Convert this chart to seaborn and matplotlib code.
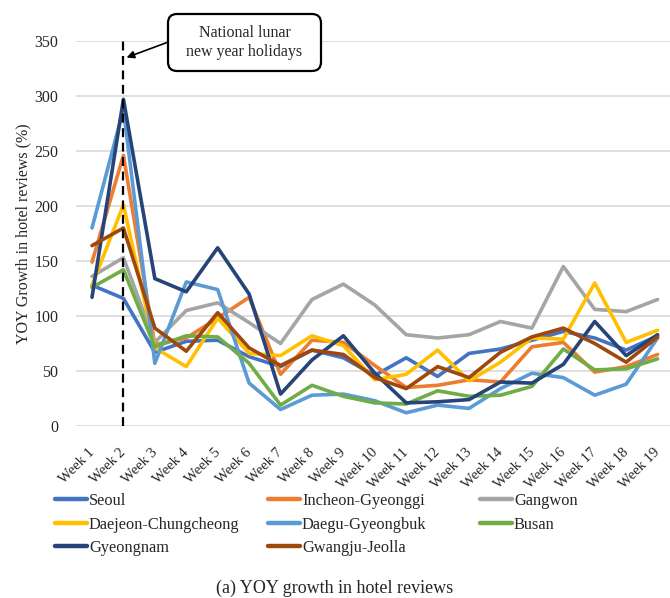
import matplotlib
matplotlib.use("Agg")
import matplotlib.pyplot as plt
from matplotlib.patches import FancyBboxPatch
from matplotlib.transforms import IdentityTransform, ScaledTranslation
import seaborn as sns
import pandas as pd

# Weekly year-over-year growth in hotel reviews (%) by region
weeks = [f"Week {i}" for i in range(1, 20)]
week_no = list(range(1, 20))

regions = ["Seoul", "Incheon-Gyeonggi", "Gangwon", "Daejeon-Chungcheong",
           "Daegu-Gyeongbuk", "Busan", "Gyeongnam", "Gwangju-Jeolla"]

seoul = [128, 116, 67, 77, 78, 63, 54, 69, 62, 46, 62, 45, 66, 70, 78, 86, 80, 69, 82]
incheon_gyeonggi = [149, 246, 74, 80, 98, 117, 47, 78, 76, 55, 35, 37, 42, 40, 72, 76, 49, 54, 65]
gangwon = [136, 153, 76, 105, 112, 94, 75, 115, 129, 110, 83, 80, 83, 95, 89, 145, 106, 104, 115]
daejeon_chungcheong = [128, 201, 71, 54, 98, 66, 64, 82, 73, 42, 47, 69, 41, 58, 80, 79, 130, 76, 87]
daegu_gyeongbuk = [180, 288, 57, 131, 124, 39, 15, 28, 29, 23, 12, 19, 16, 34, 48, 44, 28, 38, 80]
busan = [126, 142, 72, 82, 81, 57, 19, 37, 27, 21, 20, 32, 27, 28, 36, 70, 51, 52, 61]
gyeongnam = [117, 297, 134, 122, 162, 120, 29, 60, 82, 48, 21, 22, 24, 40, 39, 56, 95, 64, 83]
gwangju_jeolla = [164, 180, 89, 68, 103, 71, 55, 69, 65, 44, 34, 54, 44, 67, 81, 89, 75, 58, 81]

series = [seoul, incheon_gyeonggi, gangwon, daejeon_chungcheong,
          daegu_gyeongbuk, busan, gyeongnam, gwangju_jeolla]

colors = ["#4472C4", "#ED7D31", "#A5A5A5", "#FFC000",
          "#5B9BD5", "#70AD47", "#264478", "#9E480E"]

holiday_week = 2

rows = []
for name, vals in zip(regions, series):
    for w, v in zip(week_no, vals):
        rows.append({"week": w, "region": name, "growth": v})
df = pd.DataFrame(rows)

sns.set_style("white")
plt.rcParams["font.family"] = ["Liberation Serif", "DejaVu Serif"]

W, H = 670, 598
fig = plt.figure(figsize=(W / 100, H / 100), dpi=100)
ax = fig.add_axes([76.3 / W, (H - 426) / H, 597 / W, 385 / H])

sns.lineplot(data=df, x="week", y="growth", hue="region", hue_order=regions,
             palette=dict(zip(regions, colors)), linewidth=2.6, sort=False,
             estimator=None, ax=ax)

ax.get_legend().remove()

ax.set_xlim(0.5, 19.5)
ax.set_ylim(0, 350)
ax.set_yticks(range(0, 351, 50))
ax.set_xticks(week_no)
ax.set_xticklabels(weeks, rotation=45, ha="right", rotation_mode="default")
ax.tick_params(axis="both", length=0, labelsize=11.5)
ax.tick_params(axis="x", labelsize=10.5, pad=10)
ax.tick_params(axis="y", pad=13)
shift = ScaledTranslation(5 / 100, -6 / 100, fig.dpi_scale_trans)
for lbl in ax.get_xticklabels():
    lbl.set_transform(lbl.get_transform() + shift)
ax.yaxis.grid(True, color="#D9D9D9", linewidth=1.2)
ax.xaxis.grid(False)
for s in ax.spines.values():
    s.set_visible(False)
ax.set_xlabel("")
ax.set_ylabel("YOY Growth in hotel reviews (%)", fontsize=11.5, labelpad=2)

# Holiday marker
ax.vlines(holiday_week, 0, 350, colors="black", linestyles=(0, (4, 2.5)),
          linewidth=1.6, zorder=10)
ax.annotate("", xy=(holiday_week + 0.1, 335), xytext=(holiday_week + 1.42, 349),
            arrowprops=dict(arrowstyle="-|>", color="black", lw=1.2,
                            mutation_scale=11, shrinkA=0, shrinkB=0),
            annotation_clip=False, zorder=11)

box = FancyBboxPatch((168, H - 71), 153, 57,
                     boxstyle="round,pad=0,rounding_size=9",
                     transform=IdentityTransform(), facecolor="white",
                     edgecolor="black", linewidth=1.6)
fig.patches.append(box)
fig.text(244.5 / W, 1 - 42.5 / H, "National lunar\nnew year holidays",
         ha="center", va="center", fontsize=11.5, linespacing=1.2)

# Legend laid out in three columns, row by row
col_x = [55, 268, 480]
for c in range(3):
    idx = list(range(c, len(regions), 3))
    hs = [plt.Line2D([], [], color=colors[i], linewidth=3.2) for i in idx]
    fig.legend(hs, [regions[i] for i in idx], loc="upper left",
               bbox_to_anchor=(col_x[c] / W, 1 - 493 / H),
               frameon=False, fontsize=11.8, handlelength=1.95,
               handletextpad=0.12, labelspacing=0.46, borderpad=0,
               borderaxespad=0)

fig.text(0.5, 1 - 588 / H, "(a) YOY growth in hotel reviews",
         ha="center", va="center", fontsize=13)

fig.savefig("out.png", dpi=100)
